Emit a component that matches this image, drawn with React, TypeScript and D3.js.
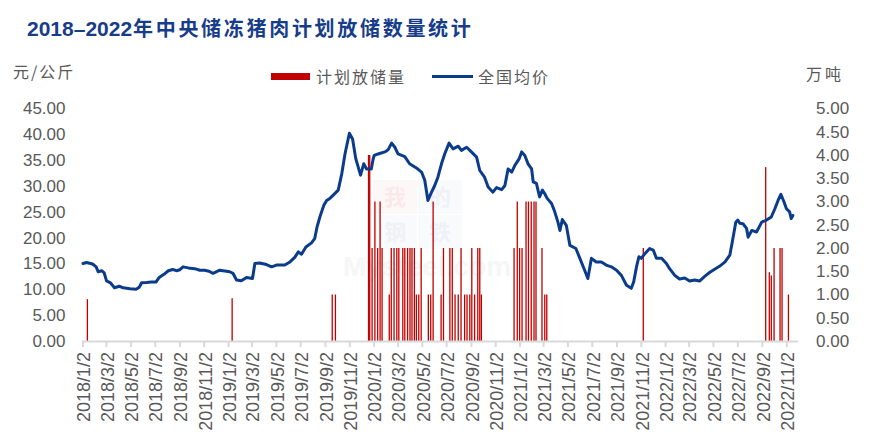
import * as d3 from "d3";

// 全国均价 (元/公斤)
const priceData: [string, number][] = [
  ["2018-01-02", 15.0], ["2018-01-11", 15.2], ["2018-01-26", 14.9], ["2018-02-04", 14.35],
  ["2018-02-09", 13.4], ["2018-02-18", 13.6], ["2018-02-24", 13.2], ["2018-03-02", 11.65],
  ["2018-03-12", 11.26], ["2018-03-22", 10.3], ["2018-04-03", 10.6], ["2018-04-13", 10.3],
  ["2018-04-30", 10.1], ["2018-05-15", 10.0], ["2018-05-23", 10.4], ["2018-05-29", 11.26],
  ["2018-06-10", 11.3], ["2018-06-23", 11.4], ["2018-07-04", 11.4], ["2018-07-12", 12.3],
  ["2018-07-24", 12.9], ["2018-08-04", 13.6], ["2018-08-15", 13.85], ["2018-08-25", 13.6],
  ["2018-09-02", 13.8], ["2018-09-10", 14.35], ["2018-09-23", 14.15], ["2018-10-09", 14.0],
  ["2018-10-22", 13.7], ["2018-11-03", 13.7], ["2018-11-14", 13.5], ["2018-11-24", 13.1],
  ["2018-12-11", 13.7], ["2019-01-05", 13.4], ["2019-01-13", 13.1], ["2019-01-22", 11.8],
  ["2019-02-03", 11.65], ["2019-02-16", 12.3], ["2019-03-03", 12.1], ["2019-03-09", 15.0],
  ["2019-03-21", 15.1], ["2019-04-07", 14.8], ["2019-04-20", 14.35], ["2019-05-02", 14.7],
  ["2019-05-23", 14.7], ["2019-06-05", 15.3], ["2019-06-17", 16.2], ["2019-06-26", 17.25],
  ["2019-07-04", 16.8], ["2019-07-15", 18.2], ["2019-07-29", 19.0], ["2019-08-06", 19.8],
  ["2019-08-12", 22.1], ["2019-08-19", 24.0], ["2019-08-29", 26.3], ["2019-09-05", 27.2],
  ["2019-09-13", 27.6], ["2019-09-21", 28.2], ["2019-10-04", 29.2], ["2019-10-13", 32.4],
  ["2019-10-21", 36.2], ["2019-11-01", 40.2], ["2019-11-09", 39.1], ["2019-11-17", 35.3],
  ["2019-11-29", 32.1], ["2019-12-07", 34.3], ["2019-12-14", 33.3], ["2019-12-26", 33.3],
  ["2019-12-30", 35.0], ["2020-01-02", 35.9], ["2020-01-12", 36.2], ["2020-01-29", 36.6],
  ["2020-02-06", 37.0], ["2020-02-15", 38.3], ["2020-02-23", 37.5], ["2020-03-02", 36.2],
  ["2020-03-19", 35.7], ["2020-03-31", 34.3], ["2020-04-17", 33.5], ["2020-04-30", 32.7],
  ["2020-05-08", 31.1], ["2020-05-16", 27.2], ["2020-05-25", 28.8], ["2020-06-02", 30.1],
  ["2020-06-10", 31.7], ["2020-06-19", 34.3], ["2020-06-27", 36.2], ["2020-07-08", 38.3],
  ["2020-07-18", 37.2], ["2020-07-31", 37.7], ["2020-08-08", 36.9], ["2020-08-21", 37.5],
  ["2020-09-02", 36.6], ["2020-09-15", 35.6], ["2020-09-23", 33.0], ["2020-10-05", 31.7],
  ["2020-10-14", 29.8], ["2020-10-26", 28.8], ["2020-11-04", 29.7], ["2020-11-17", 29.3],
  ["2020-11-25", 30.1], ["2020-12-03", 33.3], ["2020-12-12", 32.7], ["2020-12-20", 34.0],
  ["2020-12-31", 35.3], ["2021-01-06", 36.6], ["2021-01-14", 35.9], ["2021-01-22", 34.3],
  ["2021-01-31", 33.3], ["2021-02-04", 30.8], ["2021-02-12", 30.5], ["2021-02-20", 27.9],
  ["2021-02-27", 29.2], ["2021-03-05", 28.5], ["2021-03-11", 27.6], ["2021-03-22", 26.6],
  ["2021-03-30", 25.0], ["2021-04-07", 23.0], ["2021-04-12", 21.4], ["2021-04-18", 23.5],
  ["2021-04-28", 22.4], ["2021-05-07", 18.5], ["2021-05-22", 17.9], ["2021-06-01", 16.0],
  ["2021-06-13", 13.7], ["2021-06-21", 12.1], ["2021-06-30", 16.0], ["2021-07-12", 15.3],
  ["2021-07-25", 15.3], ["2021-08-06", 14.7], ["2021-08-19", 14.35], ["2021-09-01", 13.7],
  ["2021-09-13", 12.7], ["2021-09-26", 10.8], ["2021-10-08", 10.2], ["2021-10-14", 11.45],
  ["2021-10-21", 14.35], ["2021-10-27", 16.3], ["2021-11-02", 16.0], ["2021-11-11", 16.9],
  ["2021-11-23", 17.9], ["2021-12-02", 17.6], ["2021-12-10", 16.0], ["2021-12-23", 16.0],
  ["2022-01-04", 15.0], ["2022-01-12", 14.0], ["2022-01-25", 12.7], ["2022-02-06", 12.0],
  ["2022-02-19", 12.2], ["2022-03-03", 11.6], ["2022-03-16", 11.8], ["2022-03-28", 11.6],
  ["2022-04-10", 12.5], ["2022-04-23", 13.3], ["2022-05-05", 13.9], ["2022-05-18", 14.5],
  ["2022-05-31", 15.3], ["2022-06-12", 16.6], ["2022-06-19", 19.5], ["2022-06-27", 23.0],
  ["2022-07-02", 23.4], ["2022-07-07", 22.8], ["2022-07-15", 22.7], ["2022-07-24", 21.8],
  ["2022-07-28", 20.1], ["2022-08-06", 21.4], ["2022-08-18", 21.1], ["2022-08-31", 23.0],
  ["2022-09-12", 23.4], ["2022-09-24", 24.0], ["2022-10-03", 25.6], ["2022-10-11", 27.2],
  ["2022-10-18", 28.4], ["2022-10-26", 26.9], ["2022-11-01", 25.6], ["2022-11-09", 25.0],
  ["2022-11-13", 23.7], ["2022-11-17", 24.3],
];

// 计划放储量 (万吨)
const releaseData: [string, number][] = [
  ["2018-01-13", 0.9], ["2019-01-11", 0.92], ["2019-09-19", 1], ["2019-09-27", 1],
  ["2019-12-19", 4], ["2019-12-22", 4], ["2019-12-28", 2], ["2020-01-04", 3],
  ["2020-01-11", 2], ["2020-01-17", 3], ["2020-01-22", 2], ["2020-02-09", 1],
  ["2020-02-14", 2], ["2020-02-21", 2], ["2020-02-28", 2], ["2020-03-04", 2],
  ["2020-03-14", 2], ["2020-03-19", 2], ["2020-03-26", 2], ["2020-04-01", 2],
  ["2020-04-06", 2], ["2020-04-12", 2], ["2020-04-17", 1], ["2020-04-23", 1],
  ["2020-04-29", 2], ["2020-05-17", 1], ["2020-05-23", 1], ["2020-05-29", 3],
  ["2020-06-18", 1], ["2020-06-24", 2], ["2020-07-10", 2], ["2020-07-16", 2],
  ["2020-07-23", 1], ["2020-07-31", 1], ["2020-08-07", 2], ["2020-08-16", 1],
  ["2020-08-22", 1], ["2020-08-29", 1], ["2020-09-03", 2], ["2020-09-10", 1],
  ["2020-09-18", 2], ["2020-09-23", 2], ["2020-09-27", 1], ["2020-12-18", 2],
  ["2020-12-26", 3], ["2021-01-01", 2], ["2021-01-07", 2], ["2021-01-17", 3],
  ["2021-01-23", 3], ["2021-01-30", 3], ["2021-02-06", 3], ["2021-02-11", 3],
  ["2021-02-26", 2], ["2021-03-05", 1], ["2021-03-10", 1], ["2021-11-07", 2],
  ["2022-09-10", 3.74], ["2022-09-19", 1.48], ["2022-09-24", 1.41], ["2022-10-01", 2],
  ["2022-10-16", 2], ["2022-10-21", 2], ["2022-11-06", 1],
];

const xTickLabels = [
  "2018/1/2", "2018/3/2", "2018/5/2", "2018/7/2", "2018/9/2", "2018/11/2",
  "2019/1/2", "2019/3/2", "2019/5/2", "2019/7/2", "2019/9/2", "2019/11/2",
  "2020/1/2", "2020/3/2", "2020/5/2", "2020/7/2", "2020/9/2", "2020/11/2",
  "2021/1/2", "2021/3/2", "2021/5/2", "2021/7/2", "2021/9/2", "2021/11/2",
  "2022/1/2", "2022/3/2", "2022/5/2", "2022/7/2", "2022/9/2", "2022/11/2",
];
const leftTicks = [0, 5, 10, 15, 20, 25, 30, 35, 40, 45];
const rightTicks = [0, 0.5, 1, 1.5, 2, 2.5, 3, 3.5, 4, 4.5, 5];

const titleYears = "2018–2022";
const titleRest = "年中央储冻猪肉计划放储数量统计";
const leftUnit = "元/公斤";
const rightUnit = "万吨";
const barName = "计划放储量";
const lineName = "全国均价";
const watermarkChars = ["我", "的", "钢", "铁"];
const watermarkText = "Mysteel.com";

const W = 886;
const H = 448;
const RED = "#c00000";
const BLUE = "#0b3c8c";
const GRAY = "#595959";
const AXIS = "#d9d9d9";
const cjk = "'Noto Sans CJK SC', sans-serif";
const num = "'Liberation Sans', Arial, sans-serif";

const parseDay = d3.timeParse("%Y-%m-%d");
const parseTick = d3.timeParse("%Y/%m/%d");

export default function App() {
  const x = d3.scaleTime()
    .domain([parseDay("2018-01-02")!, parseDay("2022-11-30")!])
    .range([83, 798]);
  const yL = d3.scaleLinear().domain([0, 45]).range([341, 108.5]);
  const yR = d3.scaleLinear().domain([0, 5]).range([341, 108.5]);

  const line = d3.line<[string, number]>()
    .x(d => x(parseDay(d[0])!))
    .y(d => yL(d[1]));

  const base = yR(0);

  return (
    <svg width={W} height={H} style={{ position: "absolute", left: 0, top: 0, background: "#fff" }}>
      <rect width={W} height={H} fill="#fff" />

      {/* title */}
      <text x={27} y={36} fontWeight={700} fill="#173d8a">
        <tspan fontFamily={num} fontSize={21}>{titleYears}</tspan>
        <tspan x={133} fontFamily={cjk} fontSize={20} letterSpacing={2.7}>{titleRest}</tspan>
      </text>

      {/* units */}
      <text x={13} y={72} dy="0.35em" fontFamily={cjk} fontSize={16} letterSpacing={2} fill={GRAY}>
        {leftUnit}
      </text>
      <text x={806} y={74} dy="0.35em" fontFamily={cjk} fontSize={16} letterSpacing={3} fill={GRAY}>
        {rightUnit}
      </text>

      {/* legend */}
      <rect x={271} y={73} width={39} height={7} fill={RED} />
      <text x={316} y={77} dy="0.35em" fontFamily={cjk} fontSize={16} letterSpacing={2} fill={GRAY}>
        {barName}
      </text>
      <line x1={432} x2={473} y1={76.5} y2={76.5} stroke={BLUE} strokeWidth={3} />
      <text x={478} y={77} dy="0.35em" fontFamily={cjk} fontSize={16} letterSpacing={2} fill={GRAY}>
        {lineName}
      </text>

      {/* faint watermark */}
      <g opacity={0.3}>
        {watermarkChars.map((c, i) => {
          const bx = 373 + (i % 2) * 45;
          const by = 180 + Math.floor(i / 2) * 35;
          return (
            <g key={c}>
              <rect x={bx} y={by} width={44} height={34} fill={i === 0 ? "#fbeaea" : "#eef1f7"} />
              <text x={bx + 22} y={by + 17} dy="0.35em" textAnchor="middle" fontFamily={cjk}
                fontWeight={700} fontSize={22} fill={i === 0 ? "#f0b9b9" : "#c9d3e6"}>{c}</text>
            </g>
          );
        })}
        <text x={343} y={276} fontFamily={num} fontWeight={700} fontSize={28} fill="#e2e2e2">{watermarkText}</text>
      </g>

      {/* left axis labels */}
      {leftTicks.map(t => (
        <text key={"l" + t} x={65.5} y={yL(t)} dy="0.35em" textAnchor="end"
          fontFamily={num} fontSize={17} fill={GRAY}>
          {t.toFixed(2)}
        </text>
      ))}

      {/* right axis labels */}
      {rightTicks.map(t => (
        <text key={"r" + t} x={816} y={yR(t)} dy="0.35em" textAnchor="start"
          fontFamily={num} fontSize={17} fill={GRAY}>
          {t.toFixed(2)}
        </text>
      ))}

      {/* bars */}
      {releaseData.map(d => {
        const cx = x(parseDay(d[0])!);
        const top = yR(d[1]);
        return <rect key={d[0]} x={cx - 0.65} y={top} width={1.3} height={base - top} fill={RED} />;
      })}

      {/* price line */}
      <path d={line(priceData) || ""} fill="none" stroke={BLUE} strokeWidth={3}
        strokeLinejoin="round" strokeLinecap="round" />

      {/* x axis */}
      <line x1={82} x2={798} y1={341.5} y2={341.5} stroke={AXIS} strokeWidth={2} />
      {xTickLabels.map(lbl => {
        const tx = x(parseTick(lbl)!);
        return (
          <g key={lbl}>
            <line x1={tx} x2={tx} y1={341} y2={347} stroke={AXIS} strokeWidth={2} />
            <text transform={`translate(${tx + 1},352) rotate(-90)`} dy="0.35em" textAnchor="end"
              fontFamily={num} fontSize={18} fill={GRAY}>
              {lbl}
            </text>
          </g>
        );
      })}
    </svg>
  );
}
